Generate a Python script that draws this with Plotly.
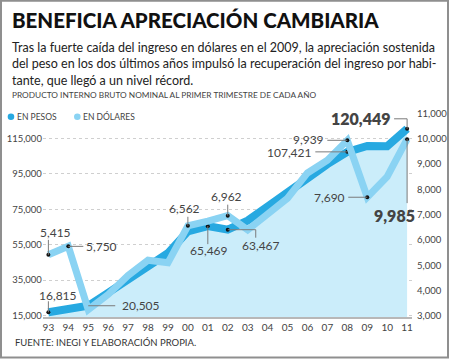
import plotly.graph_objects as go

# ---------------- data ----------------
years = [1993, 1994, 1995, 1996, 1997, 1998, 1999, 2000, 2001, 2002,
         2003, 2004, 2005, 2006, 2007, 2008, 2009, 2010, 2011]
year_labels = ['93', '94', '95', '96', '97', '98', '99', '00', '01', '02',
               '03', '04', '05', '06', '07', '08', '09', '10', '11']
pesos = [16815, 18500, 20505, 27850, 35100, 42900, 50200, 62500, 65469, 63467,
         68600, 76500, 84800, 93200, 100500, 107421, 110800, 110600, 120449]
dolares = [5415, 5750, 3250, 3850, 4600, 5200, 5100, 6562, 6750, 6962,
           6400, 7000, 7650, 8650, 9150, 9939, 7690, 8500, 9985]
left_ticks = [15000, 35000, 55000, 75000, 95000, 115000]
left_tick_labels = ['15,000', '35,000', '55,000', '75,000', '95,000', '115,000']
right_ticks = [3000, 4000, 5000, 6000, 7000, 8000, 9000, 10000, 11000]
right_tick_labels = ['3,000', '4,000', '5,000', '6,000', '7,000', '8,000', '9,000', '10,000', '11,000']
peso_label_idx = [0, 2, 8, 9, 15, 18]
dolar_label_idx = [0, 1, 7, 9, 15, 16, 18]

# ---------------- layout geometry ----------------
W, H = 450, 363
PL, PR, PT, PB = 43, 413, 108, 321
FONT = 'Lato'
TXT = '#444444'
C_PESOS = '#27a9e1'
C_DOL = '#8ad3f3'
C_FILL = '#cbedfa'


def px(x):
    return x / W


def py(y):
    return 1 - y / H


fig = go.Figure()

# area under pesos
fig.add_trace(go.Scatter(x=years, y=pesos, mode='lines', fill='tozeroy',
                         fillcolor=C_FILL, line=dict(width=0, color=C_FILL),
                         hoverinfo='skip', showlegend=False))
# dollars line (right axis)
fig.add_trace(go.Scatter(x=years, y=dolares, mode='lines', yaxis='y2',
                         line=dict(width=7, color=C_DOL),
                         showlegend=False))
# pesos line
fig.add_trace(go.Scatter(x=years, y=pesos, mode='lines',
                         line=dict(width=8, color=C_PESOS),
                         showlegend=False))
# labelled points
fig.add_trace(go.Scatter(x=[years[i] for i in dolar_label_idx],
                         y=[dolares[i] for i in dolar_label_idx],
                         mode='markers', yaxis='y2',
                         marker=dict(size=4, color='#111111'), showlegend=False))
fig.add_trace(go.Scatter(x=[years[i] for i in peso_label_idx],
                         y=[pesos[i] for i in peso_label_idx],
                         mode='markers',
                         marker=dict(size=4, color='#111111'), showlegend=False))

shapes = []
annotations = []


def label(series, i, dx, dy, anchor, segs, bold=False):
    if series == 'p':
        xv, yv, yref = years[i], pesos[i], 'y'
    else:
        xv, yv, yref = years[i], dolares[i], 'y2'
    for (x0, y0, x1, y1) in segs:
        shapes.append(dict(type='line', xref='x', yref=yref,
                           xsizemode='pixel', ysizemode='pixel',
                           xanchor=xv, yanchor=yv, x0=x0, x1=x1, y0=y0, y1=y1,
                           line=dict(color='#7a7a7a', width=1), layer='above'))
    annotations.append(dict(x=xv, y=yv, xref='x', yref=yref, xshift=dx, yshift=dy,
                            text=f'{yv:,}', showarrow=False, xanchor=anchor,
                            yanchor='middle',
                            font=dict(family=FONT, size=16 if bold else 12,
                                      color=TXT, weight=800 if bold else 400)))


label('d', 0, 7, 22, 'center', [(0, 0, 0, 15)])
label('d', 1, 16, 0, 'left', [(0, 0, 15, 0)])
label('p', 0, 10, 17, 'center', [(0, 0, 0, 11)])
label('p', 2, 32, 0, 'left', [(0, 0, 27, 0)])
label('d', 7, -3, 17, 'center', [(0, 0, 0, 9)])
label('d', 9, -1, 19, 'center', [(0, 0, 0, 11)])
label('p', 8, 1, -24, 'center', [(0, 0, 0, -18)])
label('p', 9, 33, -16, 'center', [(0, 0, 28, 0), (28, 0, 28, -8)])
label('d', 15, -21, 1, 'right', [(0, 0, -20, 0)])
label('p', 15, -33, -1, 'right', [(0, 0, -32, 0)])
label('d', 16, -20, 0, 'right', [(0, 0, -19, 0)])
label('p', 18, -14, 10, 'right', [(0, 0, 0, 10), (0, 10, -13, 10)], bold=True)
label('d', 18, -13, -76, 'center', [(0, 0, 0, -64)], bold=True)

# legend
for cx, col, txt in [(11, C_PESOS, 'EN PESOS'), (77.5, C_DOL, 'EN DÓLARES')]:
    shapes.append(dict(type='circle', xref='paper', yref='paper',
                       x0=px(cx - 3.3), x1=px(cx + 3.3), y0=py(118 + 3.3), y1=py(118 - 3.3),
                       fillcolor=col, line=dict(width=0)))
    annotations.append(dict(x=px(cx + 4), y=py(118), xref='paper', yref='paper',
                            text=txt, showarrow=False, xanchor='left', yanchor='middle',
                            font=dict(family=FONT, size=8.5, color=TXT)))

# frame
shapes.append(dict(type='rect', xref='paper', yref='paper',
                   x0=px(1), x1=px(449), y0=py(361.5), y1=py(0.8),
                   line=dict(color='#8f8f8f', width=2), fillcolor='rgba(0,0,0,0)'))

# texts
annotations.append(dict(x=px(10), y=py(20), xref='paper', yref='paper',
                        text='BENEFICIA APRECIACIÓN CAMBIARIA', showarrow=False,
                        xanchor='left', yanchor='middle',
                        font=dict(family=FONT, size=20.5, color='#111111', weight=900)))
annotations.append(dict(x=px(10), y=py(38), xref='paper', yref='paper',
                        text=('Tras la fuerte caída del ingreso en dólares en el 2009, la apreciación sostenida<br>'
                              'del peso en los dos últimos años impulsó la recuperación del ingreso por habi-<br>'
                              'tante, que llegó a un nivel récord.'),
                        showarrow=False, xanchor='left', yanchor='top', align='left',
                        font=dict(family=FONT, size=12.5, color='#222222')))
annotations.append(dict(x=px(10), y=py(96), xref='paper', yref='paper',
                        text='PRODUCTO INTERNO BRUTO NOMINAL AL PRIMER TRIMESTRE DE CADA AÑO',
                        showarrow=False, xanchor='left', yanchor='middle',
                        font=dict(family=FONT, size=8.3, color=TXT)))
annotations.append(dict(x=px(13), y=py(346), xref='paper', yref='paper',
                        text='FUENTE: INEGI Y ELABORACIÓN PROPIA.',
                        showarrow=False, xanchor='left', yanchor='middle',
                        font=dict(family=FONT, size=9.5, color='#333333')))

fig.update_layout(
    width=W, height=H,
    margin=dict(l=0, r=0, t=0, b=0),
    paper_bgcolor='white', plot_bgcolor='white',
    showlegend=False,
    xaxis=dict(domain=[px(PL), px(PR)], range=[1992.725, 2011.25],
               tickvals=years, ticktext=year_labels, showgrid=False, zeroline=False,
               showline=True, linecolor='#b8b8b8', linewidth=2,
               ticks='', tickfont=dict(family=FONT, size=10, color=TXT)),
    yaxis=dict(domain=[py(PB), py(PT)], range=[13883, 132877],
               tickvals=left_ticks, ticktext=left_tick_labels,
               showgrid=True, gridcolor='#cfcfcf', griddash='dot', gridwidth=1,
               zeroline=False, ticks='', tickfont=dict(family=FONT, size=9.5, color=TXT)),
    yaxis2=dict(overlaying='y', side='right', range=[2941, 11262],
                tickvals=right_ticks, ticktext=right_tick_labels,
                showgrid=False, zeroline=False, ticks='', ticklabelstandoff=4,
                tickfont=dict(family=FONT, size=9.5, color=TXT)),
    shapes=shapes, annotations=annotations,
)

fig.write_html('out.html', config={'displayModeBar': False},
               post_script="document.body.style.margin='0';")
